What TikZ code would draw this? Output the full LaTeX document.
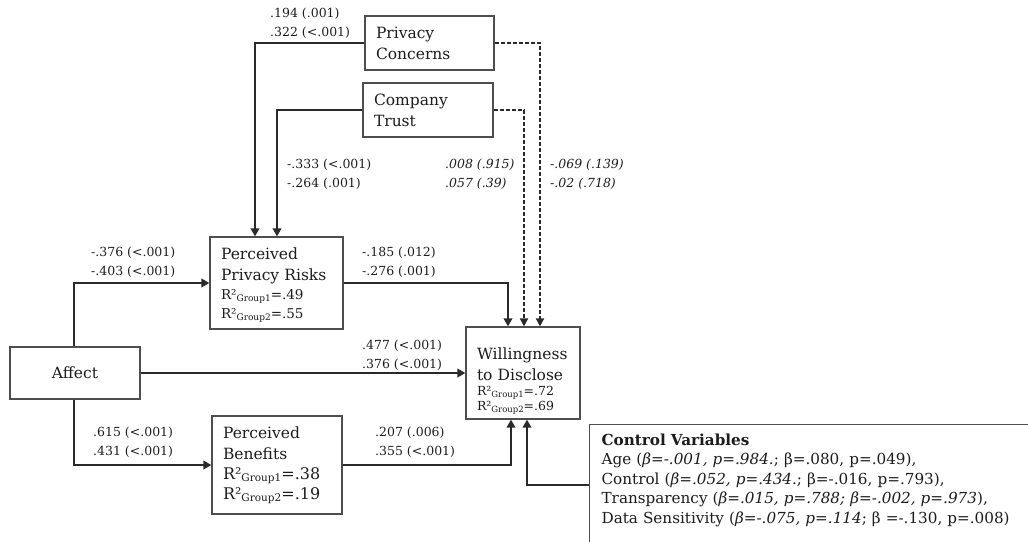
\documentclass[tikz,border=0pt]{standalone}
\usepackage{fontspec}
\setmainfont{DejaVu Serif}
\usetikzlibrary{arrows.meta}

\definecolor{ink}{HTML}{1C1C1C}
\definecolor{wire}{HTML}{2A2A2A}
\definecolor{frame}{HTML}{4E4E4E}

% font sizes (1pt = 1 unit of the drawing)
\newcommand\ttl{\fontsize{15.5}{21}\selectfont}
\newcommand\rsm{\fontsize{13.5}{19}\selectfont}
\newcommand\rxs{\fontsize{12.5}{15}\selectfont}
\newcommand\rlg{\fontsize{16}{20}\selectfont}
\newcommand\lblsize{\fontsize{12.5}{19}\selectfont}
\newcommand\cvf{\fontsize{15.2}{19.5}\selectfont}
% subscript group tag: #1 = size, #2 = group number
\newcommand\grp[2]{\raisebox{-0.3ex}{\fontsize{#1}{#1}\selectfont Group#2}}

\tikzset{
  box/.style={draw=frame, line width=1.2pt, fill=white, text=ink,
              inner xsep=11pt, inner ysep=0pt, align=left, font=\ttl},
  wire/.style={draw=wire, line width=2pt,
               -{Triangle[length=8pt,width=8.5pt]}},
  dwire/.style={draw=wire, line width=1.7pt, dash pattern=on 4pt off 2pt,
                -{Triangle[length=8pt,width=8pt]}},
  lbl/.style={anchor=north west, inner sep=0pt, align=left, text=ink,
              font=\lblsize},
  ilbl/.style={lbl, font=\lblsize\itshape}
}

\begin{document}
\begin{tikzpicture}[x=1pt,y=-1pt]
\useasboundingbox (0,0) rectangle (1028,541);
\clip (0,0) rectangle (1028,541);

% constructs
\node[box, text width=107pt, minimum height=54pt] (pc) at (429.5,43)
  {Privacy\\Concerns};
\node[box, text width=108pt, minimum height=54pt] (ct) at (428,110)
  {Company\\Trust};
\node[box, text width=111pt, minimum height=92pt, text height=16pt] (ppr) at (276.5,283)
  {Perceived\\Privacy Risks\par
   {\rsm R²\grp{9}{1}=.49\\R²\grp{9}{2}=.55\par}};
\node[box, text width=108pt, minimum height=52pt, align=center] (aff) at (75,373)
  {Affect};
\node[box, text width=92pt, minimum height=92pt, text height=27pt] (wtd) at (523,373)
  {Willingness\\to Disclose\par
   {\rxs R²\grp{8.5}{1}=.72\\R²\grp{8.5}{2}=.69\par}};
\node[box, text width=108pt, minimum height=98pt] (pb) at (277,465)
  {Perceived\\Benefits\par
   {\rlg R²\grp{10.5}{1}=.38\\R²\grp{10.5}{2}=.19\par}};
\node[box, anchor=north west, text width=440pt, inner xsep=12pt, inner ysep=9pt,
      text depth=110pt, font=\cvf] (cv) at (589,424)
  {\textbf{Control Variables}\\
   Age (\textit{β=-.001, p=.984.}; β=.080, p=.049),\\
   Control (\textit{β=.052, p=.434.}; β=-.016, p=.793),\\
   Transparency (\textit{β=.015, p=.788; β=-.002, p=.973}),\\
   Data Sensitivity (\textit{β=-.075, p=.114}; β =-.130, p=.008)};

% paths
\draw[wire] (pc.west) -| ([xshift=-21.5pt]ppr.north);
\draw[wire] (ct.west) -| ([xshift=0.5pt]ppr.north);
\draw[dwire] (pc.east) -| ([xshift=17pt]wtd.north);
\draw[dwire] (ct.east) -| ([xshift=1pt]wtd.north);
\draw[wire] ([xshift=-1pt]aff.north) |- (ppr.west);
\draw[wire] (ppr.east) -| ([xshift=-15pt]wtd.north);
\draw[wire] (aff.east) -- (wtd.west);
\draw[wire] ([xshift=-1pt]aff.south) |- (pb.west);
\draw[wire] (pb.east) -| ([xshift=-12pt]wtd.south);
\draw[wire] ([yshift=-61pt]cv.north west) -| ([xshift=4pt]wtd.south);

% coefficients
\node[lbl]  (l1) at (270,7.5)   {.194 (.001)\\.322 (<.001)};
\node[lbl]  (l2) at (287,158.5) {-.333 (<.001)\\-.264 (.001)};
\node[ilbl] (l3) at (445,158.5) {.008 (.915)\\.057 (.39)};
\node[ilbl] (l4) at (550,158.5) {-.069 (.139)\\-.02 (.718)};
\node[lbl]  (l5) at (91,246.5)  {-.376 (<.001)\\-.403 (<.001)};
\node[lbl]  (l6) at (362,246.5) {-.185 (.012)\\-.276 (.001)};
\node[lbl]  (l7) at (362,340)   {.477 (<.001)\\.376 (<.001)};
\node[lbl]  (l8) at (93,426.5)  {.615 (<.001)\\.431 (<.001)};
\node[lbl]  (l9) at (375,426.5) {.207 (.006)\\.355 (<.001)};
\end{tikzpicture}
\end{document}
